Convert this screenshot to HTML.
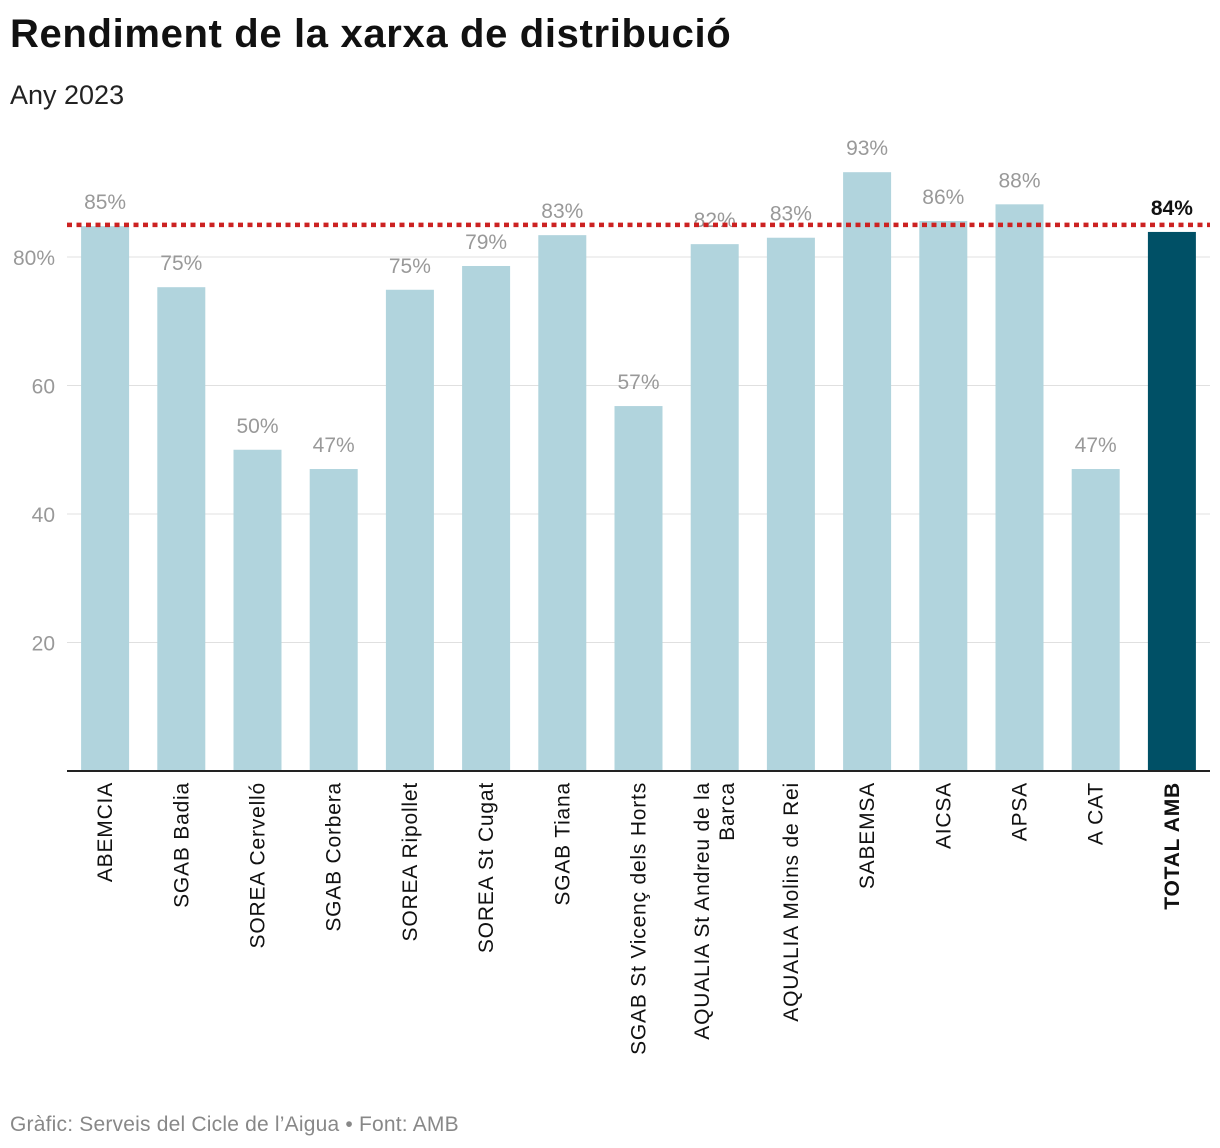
<!DOCTYPE html>
<html><head><meta charset="utf-8">
<style>
body{margin:0;background:#fff;font-family:"Liberation Sans",sans-serif;}
#wrap{position:relative;width:1220px;height:1148px;overflow:hidden;}
h1{position:absolute;left:10px;top:12px;margin:0;font-size:40px;font-weight:bold;color:#111;letter-spacing:0.65px;}
.sub{position:absolute;left:10px;top:80px;font-size:27px;color:#222;}
.foot{position:absolute;left:10px;top:1113px;font-size:21px;color:#888;letter-spacing:0.2px;}
</style></head><body>
<div id="wrap">
<h1>Rendiment de la xarxa de distribució</h1>
<div class="sub">Any 2023</div>
<svg id="chart" width="1220" height="1148" style="position:absolute;left:0;top:0"></svg>
<div class="foot">Gràfic: Serveis del Cicle de l’Aigua • Font: AMB</div>
</div>
<script>
const categories=["ABEMCIA","SGAB Badia","SOREA Cervelló","SGAB Corbera","SOREA Ripollet","SOREA St Cugat","SGAB Tiana","SGAB St Vicenç dels Horts","AQUALIA St Andreu de la|Barca","AQUALIA Molins de Rei","SABEMSA","AICSA","APSA","A CAT","TOTAL AMB"];
const values=[84.8,75.3,50,47,74.9,78.6,83.4,56.8,82,83,93.2,85.6,88.2,47,83.9];
const valueLabels=["85%","75%","50%","47%","75%","79%","83%","57%","82%","83%","93%","86%","88%","47%","84%"];
const yTicks=[20,40,60,80];
const yTickLabels=["20","40","60","80%"];
const reference=85;
const NS="http://www.w3.org/2000/svg";
const svg=document.getElementById("chart");
const x0=67,x1=1210,y0=771,pxPerUnit=6.425;
const band=(x1-x0)/categories.length,bw=48;
const y=v=>y0-v*pxPerUnit;
const xc=i=>x0+band*(i+0.5);
function mk(tag,attrs,parent){const e=document.createElementNS(NS,tag);for(const k in attrs)e.setAttribute(k,attrs[k]);(parent||svg).appendChild(e);return e;}
yTicks.forEach((t,i)=>{
 const g=mk("line",{x1:x0,x2:x1,y1:y(t),y2:y(t),stroke:"#e0e0e0","stroke-width":1});
 
 
 const l=mk("text",{x:55,y:y(t)+8,"text-anchor":"end","font-size":21,fill:"#999"});
 l.textContent=yTickLabels[i];
 
 
});
categories.forEach((c,i)=>{
 const last=i===categories.length-1;
 const r=mk("rect",{x:xc(i)-bw/2,y:y(values[i]),width:bw,height:values[i]*pxPerUnit,fill:last?"#005066":"#b1d4dd"});
 
 
 const t=mk("text",{x:xc(i),y:y(values[i])-17,"text-anchor":"middle","font-size":21,fill:last?"#111":"#999","font-weight":last?"bold":"normal"});
 t.textContent=valueLabels[i];
 
 
 const lines=c.split("|");
 const g=mk("text",{transform:`translate(${xc(i)},782) rotate(-90)`,"text-anchor":"end","font-size":21,fill:"#111","font-weight":last?"bold":"normal","letter-spacing":"0.8"});
 
 
 lines.forEach((ln,j)=>{const s=mk("tspan",{x:0,y:(j-(lines.length-1)/2)*25+7},g);s.textContent=ln;});
});
const ax=mk("line",{x1:x0,x2:x1,y1:y0,y2:y0,stroke:"#222","stroke-width":2});


const ref=mk("line",{x1:x0,x2:x1,y1:y(reference),y2:y(reference),stroke:"#cc2222","stroke-width":4.5,"stroke-dasharray":"5 4.5"});


</script>
</body></html>
